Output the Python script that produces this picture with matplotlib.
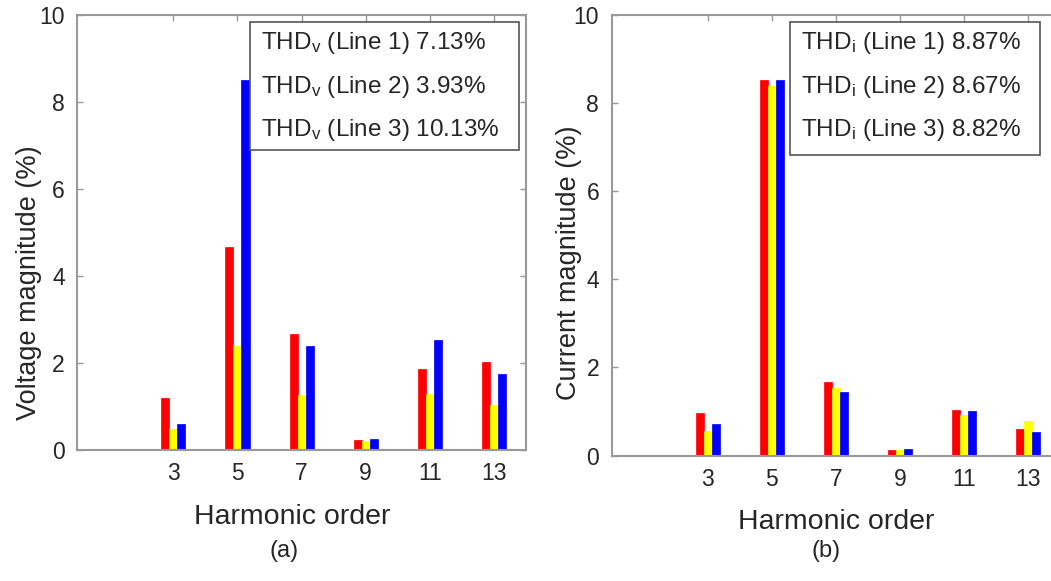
import matplotlib
matplotlib.use("Agg")
import matplotlib.pyplot as plt
import numpy as np

plt.rcParams['font.family'] = ['Liberation Sans', 'DejaVu Sans']
plt.rcParams['mathtext.fontset'] = 'custom'
plt.rcParams['mathtext.rm'] = 'Liberation Sans'
plt.rcParams['mathtext.it'] = 'Liberation Sans'

harmonics = [3, 5, 7, 9, 11, 13]
xticks = [3, 5, 7, 9, 11, 13]
yticks = [0, 2, 4, 6, 8, 10]

volt_line1 = [1.19, 4.67, 2.67, 0.23, 1.86, 2.02]
volt_line2 = [0.48, 2.40, 1.27, 0.21, 1.29, 1.04]
volt_line3 = [0.60, 8.50, 2.40, 0.245, 2.53, 1.75]

curr_line1 = [0.96, 8.52, 1.67, 0.125, 1.04, 0.61]
curr_line2 = [0.56, 8.40, 1.54, 0.12, 0.91, 0.79]
curr_line3 = [0.71, 8.54, 1.45, 0.155, 1.01, 0.53]

thd_v = ["7.13%", "3.93%", "10.13%"]
thd_i = ["8.87%", "8.67%", "8.82%"]

colors = ['#ff0000', '#ffff00', '#0000ff']
spine_c = '#999999'
text_c = '#262626'

fig = plt.figure(figsize=(10.51, 5.81), dpi=100)
axL = fig.add_axes([0.0735, 0.2255, 0.4269, 0.7482])
axR = fig.add_axes([0.582, 0.216, 0.4269, 0.7577])

def draw(ax, series, ylabel, sub, thd, boxpos, ylab_xy, xlab_xy):
    x = np.array(harmonics, dtype=float)
    w = 0.25
    offs = [-w, 0.0, w]
    for s, c, o in zip(series, colors, offs):
        ax.bar(x + o, s, width=w, color=c, edgecolor=c, linewidth=0.5, zorder=2)
    ax.set_xlim(0, 14)
    ax.set_ylim(0, 10)
    ax.set_xticks(xticks)
    ax.set_yticks(yticks)
    ax.tick_params(direction='in', length=4, width=1, color=spine_c,
                   labelsize=16.5, labelcolor=text_c, top=True, right=True, pad=9)
    for sp in ax.spines.values():
        sp.set_color(spine_c)
        sp.set_linewidth(1.5)
    ax.set_xlabel('Harmonic order', fontsize=20.5, color=text_c)
    ax.set_ylabel(ylabel, fontsize=19.5, color=text_c)
    ax.yaxis.set_label_coords(*ylab_xy)
    ax.xaxis.set_label_coords(*xlab_xy)
    ax.xaxis.label.set_va('center')
    ax.yaxis.label.set_va('center')
    lines = [r'THD$_{\mathrm{%s}}$ (Line %d) %s' % (sub, i + 1, t) for i, t in enumerate(thd)]
    x0, y0, x1, y1 = boxpos
    fig.patches.append(plt.Rectangle((x0 / 1051, 1 - y1 / 581), (x1 - x0) / 1051, (y1 - y0) / 581,
                                     transform=fig.transFigure, facecolor='white',
                                     edgecolor='#555555', linewidth=1.2, zorder=5))
    for i, l in enumerate(lines):
        fig.text((x0 + 11) / 1051, 1 - (y0 + 21 + i * 43.5) / 581, l, fontsize=17.5,
                 color=text_c, va='center', ha='left', zorder=6)

draw(axL, [volt_line1, volt_line2, volt_line3], 'Voltage magnitude (%)', 'v', thd_v,
     (250, 22, 519, 150), (-0.108, 0.385), (0.48, -0.155))
draw(axR, [curr_line1, curr_line2, curr_line3], 'Current magnitude (%)', 'i', thd_i,
     (790, 22, 1040, 155), (-0.096, 0.437), (0.5, -0.15))

fig.text(284 / 1051, 1 - 551 / 581, '(a)', fontsize=17, color=text_c, ha='center', va='center')
fig.text(826 / 1051, 1 - 551 / 581, '(b)', fontsize=17, color=text_c, ha='center', va='center')

fig.savefig('out.png', dpi=100)
